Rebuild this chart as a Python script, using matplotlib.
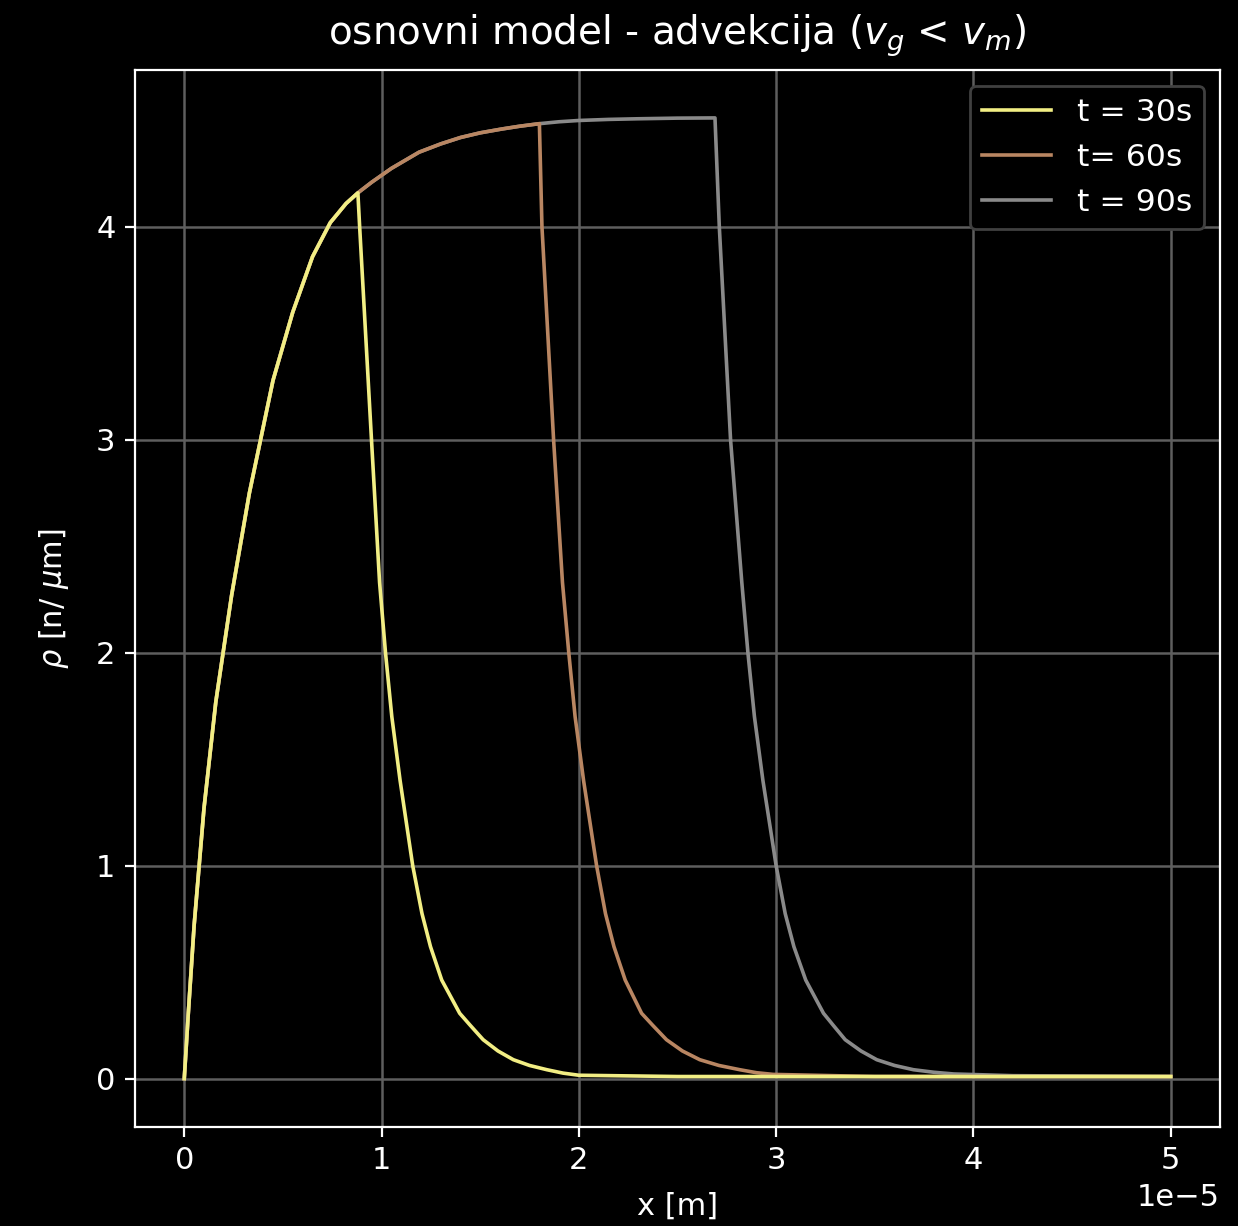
import numpy as np
import matplotlib
matplotlib.use("Agg")
import matplotlib.pyplot as plt

# values, x in units of 1e-5 m, rho in n/um
x_30 = [0, 0.02, 0.05, 0.1, 0.16, 0.24, 0.33, 0.45, 0.55, 0.65, 0.74, 0.82, 0.88,
        0.889, 0.949, 0.99, 1.02, 1.052, 1.094, 1.158, 1.205, 1.248, 1.305,
        1.396, 1.45, 1.515, 1.59, 1.668, 1.75, 1.838, 1.92, 2.0, 2.5, 5.0]
rho_30 = [0, 0.3, 0.72, 1.27, 1.77, 2.27, 2.75, 3.28, 3.6, 3.86, 4.02, 4.11, 4.16,
          4.0, 3.0, 2.33, 2.0, 1.7, 1.4, 1.0, 0.775, 0.62, 0.463,
          0.307, 0.25, 0.183, 0.13, 0.089, 0.062, 0.042, 0.026, 0.016, 0.01, 0.01]

x_60 = [0, 0.02, 0.05, 0.1, 0.16, 0.24, 0.33, 0.45, 0.55, 0.65, 0.74, 0.82, 0.88,
        0.95, 1.05, 1.19, 1.30, 1.40, 1.50, 1.61, 1.70, 1.80,
        1.813, 1.872, 1.917, 1.949, 1.981, 2.024, 2.09, 2.135, 2.178, 2.235,
        2.318, 2.375, 2.444, 2.525, 2.613, 2.71, 2.816, 2.9, 2.985, 3.5, 5.0]
rho_60 = [0, 0.3, 0.72, 1.27, 1.77, 2.27, 2.75, 3.28, 3.6, 3.86, 4.02, 4.11, 4.16,
          4.21, 4.275, 4.351, 4.39, 4.42, 4.442, 4.46, 4.473, 4.485,
          4.0, 3.0, 2.33, 2.0, 1.7, 1.4, 1.0, 0.775, 0.62, 0.463,
          0.307, 0.25, 0.183, 0.13, 0.089, 0.062, 0.042, 0.028, 0.02, 0.01, 0.01]

x_90 = [0, 0.02, 0.05, 0.1, 0.16, 0.24, 0.33, 0.45, 0.55, 0.65, 0.74, 0.82, 0.88,
        0.95, 1.05, 1.19, 1.30, 1.40, 1.50, 1.61, 1.70, 1.80, 1.9, 2.0, 2.15,
        2.3, 2.5, 2.69,
        2.712, 2.769, 2.826, 2.857, 2.89, 2.933, 3.0, 3.046, 3.09, 3.15,
        3.24, 3.29, 3.35, 3.43, 3.51, 3.6, 3.696, 3.8, 3.9, 4.2, 5.0]
rho_90 = [0, 0.3, 0.72, 1.27, 1.77, 2.27, 2.75, 3.28, 3.6, 3.86, 4.02, 4.11, 4.16,
          4.21, 4.275, 4.351, 4.39, 4.42, 4.442, 4.46, 4.473, 4.485, 4.494, 4.50, 4.505,
          4.508, 4.511, 4.512,
          4.0, 3.0, 2.33, 2.0, 1.7, 1.4, 1.0, 0.775, 0.62, 0.463,
          0.307, 0.25, 0.183, 0.13, 0.089, 0.062, 0.042, 0.03, 0.022, 0.014, 0.01]

labels = ["t = 30s", "t= 60s", "t = 90s"]
colors = ["#f2ee84", "#b98662", "#8a8a8a"]

plt.style.use("dark_background")
plt.rcParams["xtick.labelsize"] = 11
plt.rcParams["ytick.labelsize"] = 11
plt.rcParams["axes.labelsize"] = 11

fig = plt.figure(figsize=(6.19, 6.13), dpi=200)
ax = fig.add_axes([0.109, 0.081, 0.8765, 0.862])

series = [(x_30, rho_30), (x_60, rho_60), (x_90, rho_90)]
for i, (xs, ys) in enumerate(series):
    ax.plot(np.array(xs) * 1e-5, ys, color=colors[i], lw=1.3, label=labels[i], zorder=5 - i)

ax.grid(True, color="0.37", lw=0.9)
ax.set_axisbelow(True)
ax.set_title(r"osnovni model - advekcija ($v_g$ < $v_m$)", fontsize=14, pad=9)
ax.set_xlabel("x [m]", labelpad=6)
ax.set_ylabel(r"$\rho$ [n/ $\mu$m]", labelpad=9)
ax.set_yticks([0, 1, 2, 3, 4])

leg = ax.legend(loc="upper right", fontsize=11.3, facecolor="black", edgecolor="0.25",
                framealpha=1, handlelength=2.2, borderaxespad=0.5)

fig.savefig("out.png", dpi=200, facecolor="black")
